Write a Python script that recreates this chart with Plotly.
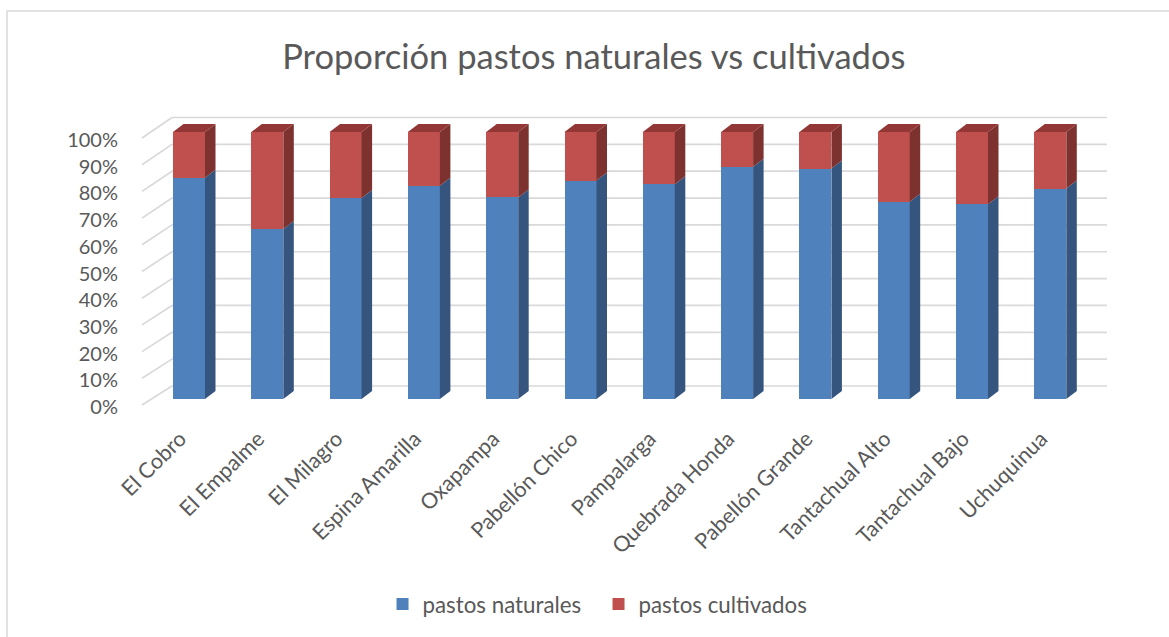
import plotly.graph_objects as go

# ---------------- data ----------------
categories = ["El Cobro", "El Empalme", "El Milagro", "Espina Amarilla", "Oxapampa",
              "Pabellón Chico", "Pampalarga", "Quebrada Honda", "Pabellón Grande",
              "Tantachual Alto", "Tantachual Bajo", "Uchuquinua"]
naturales = [82.9, 63.7, 75.3, 79.9, 75.5, 81.8, 80.4, 87.0, 86.3, 73.9, 72.9, 78.8]
cultivados = [round(100 - v, 1) for v in naturales]
y_ticks = [0, 10, 20, 30, 40, 50, 60, 70, 80, 90, 100]

# ---------------- style ----------------
W, H = 1169, 637
TXT = "#595959"
FONT = "Lato"
BLUE, BLUE_SIDE = "#4F81BD", "#35557F"
RED, RED_SIDE, RED_TOP = "#C0504D", "#7E3230", "#923735"
GRID = "#D9D9D9"

# pixel geometry -> axis geometry
px_per_cat = 78.3
cx0 = 189.0
x_left_px, x_right_px = 130.0, 1120.0
x_range = [(x_left_px - cx0) / px_per_cat, (x_right_px - cx0) / px_per_cat]
y0_px, y100_px = 399.0, 132.0
ppu = (y0_px - y100_px) / 100.0
y_bot_px, y_top_px = 420.0, 100.0
y_range = [-(y_bot_px - y0_px) / ppu, 100 + (y100_px - y_top_px) / ppu]

bar_w = 32.0 / px_per_cat
dx = 10.5 / px_per_cat
dy = 8.0 / ppu
label_dx = -9.0 / px_per_cat   # category labels sit slightly left of bar centres

xs = list(range(len(categories)))

fig = go.Figure()

fig.add_trace(go.Bar(x=xs, y=naturales, name="pastos naturales", marker_color=BLUE,
                     marker_line_width=0, width=bar_w, hoverinfo="skip"))
fig.add_trace(go.Bar(x=xs, y=cultivados, name="pastos cultivados", marker_color=RED,
                     marker_line_width=0, width=bar_w, hoverinfo="skip"))

# side faces & top faces (3D look) derived from the data
def side_poly(bottoms, tops):
    px, py = [], []
    for i, (b, t) in enumerate(zip(bottoms, tops)):
        xr = i + bar_w / 2
        px += [xr, xr + dx, xr + dx, xr, xr, None]
        py += [b, b + dy, t + dy, t, b, None]
    return px, py

bx, by = side_poly([0] * len(xs), naturales)
fig.add_trace(go.Scatter(x=bx, y=by, fill="toself", fillcolor=BLUE_SIDE, mode="lines",
                         line=dict(width=0, color=BLUE_SIDE), showlegend=False, hoverinfo="skip"))
tops = [n + c for n, c in zip(naturales, cultivados)]
rx, ry = side_poly(naturales, tops)
fig.add_trace(go.Scatter(x=rx, y=ry, fill="toself", fillcolor=RED_SIDE, mode="lines",
                         line=dict(width=0, color=RED_SIDE), showlegend=False, hoverinfo="skip"))
tx, ty = [], []
for i, t in enumerate(tops):
    xl, xr = i - bar_w / 2, i + bar_w / 2
    tx += [xl, xr, xr + dx, xl + dx, xl, None]
    ty += [t, t, t + dy, t + dy, t, None]
fig.add_trace(go.Scatter(x=tx, y=ty, fill="toself", fillcolor=RED_TOP, mode="lines",
                         line=dict(width=0, color=RED_TOP), showlegend=False, hoverinfo="skip"))

# back-wall gridlines and left-wall diagonals
shapes = []
gx0 = (172 - cx0) / px_per_cat
gx1 = (1107 - cx0) / px_per_cat
fx = (142 - cx0) / px_per_cat
back_off = (y0_px - 386.0) / ppu
back_scale = (386.0 - 117.5) / (y0_px - y100_px)
front_off = -(405.0 - y0_px) / ppu
for v in y_ticks:
    yb = back_off + v * back_scale
    yf = front_off + v
    shapes.append(dict(type="line", xref="x", yref="y", x0=gx0, x1=gx1, y0=yb, y1=yb,
                       line=dict(color=GRID, width=1.7), layer="below"))
    shapes.append(dict(type="line", xref="x", yref="y", x0=fx, x1=gx0, y0=yf, y1=yb,
                       line=dict(color=GRID, width=1.7), layer="below"))
# chart border
shapes.append(dict(type="rect", xref="paper", yref="paper", x0=7 / W, x1=1.02,
                   y0=-0.02, y1=1 - 11 / H, line=dict(color=GRID, width=1.5), layer="below"))

label_shift = 3.0
fig.update_layout(
    width=W, height=H,
    margin=dict(l=0, r=0, t=0, b=0, autoexpand=False),
    paper_bgcolor="white", plot_bgcolor="white",
    barmode="stack",
    shapes=shapes,
    font=dict(family=FONT, color=TXT, size=21),
    title=dict(text="Proporción pastos naturales vs cultivados", x=0.508, xanchor="center",
               y=1 - 57 / H, yanchor="middle", font=dict(family=FONT, size=34.5, color=TXT)),
    xaxis=dict(domain=[x_left_px / W, x_right_px / W], range=x_range, automargin=False,
               showgrid=False, zeroline=False, showline=False, showticklabels=False, ticks=""),
    xaxis2=dict(overlaying="x", anchor="y", side="bottom", automargin=False,
                range=[x_range[0] - label_dx, x_range[1] - label_dx],
                tickmode="array", tickvals=xs, ticktext=categories, tickangle=-45,
                showgrid=False, zeroline=False, showline=False, ticks="",
                ticklabelstandoff=1, tickfont=dict(size=21.5, color=TXT, family=FONT)),
    yaxis=dict(domain=[1 - y_bot_px / H, 1 - y_top_px / H], range=y_range, automargin=False,
               showgrid=False, zeroline=False, showline=False, showticklabels=False, ticks=""),
    yaxis2=dict(overlaying="y", anchor="x", side="left", automargin=False,
                range=[y_range[0] + label_shift, y_range[1] + label_shift],
                tickmode="array", tickvals=y_ticks, ticktext=[f"{v}%" for v in y_ticks],
                showgrid=False, zeroline=False, showline=False, ticks="", ticklabelstandoff=11,
                tickfont=dict(size=20, color=TXT, family=FONT)),
    legend=dict(orientation="h", x=0.512, xanchor="center", y=1 - 604 / H, yanchor="middle",
                font=dict(size=22.3, color=TXT, family=FONT), traceorder="normal",
                entrywidth=171, entrywidthmode="pixels"),
    showlegend=True,
)
# dummy traces to activate the label axes
fig.add_trace(go.Scatter(x=[None], y=[None], xaxis="x2", yaxis="y2", showlegend=False, hoverinfo="skip"))
fig.add_trace(go.Scatter(x=[None], y=[None], xaxis="x2", yaxis="y", showlegend=False, hoverinfo="skip"))

fig.write_html("out.html")
